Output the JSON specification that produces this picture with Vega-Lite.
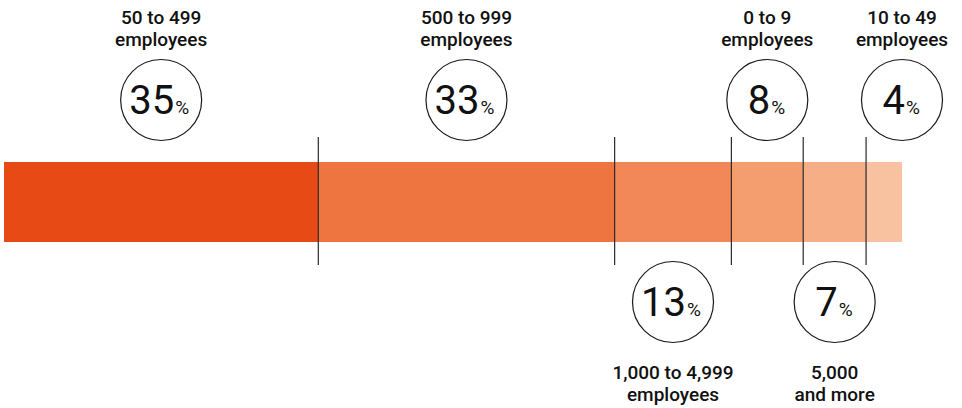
{
  "$schema": "https://vega.github.io/schema/vega-lite/v6.json",
  "width": 898,
  "height": 408,
  "autosize": {"type": "none"},
  "padding": {"left": 4, "right": 60, "top": 0, "bottom": 0},
  "background": "white",
  "config": {"view": {"stroke": null}, "font": "Roboto"},
  "data": {
    "values": [
      {"label": "50 to 499\nemployees", "num": "35", "pct": 35, "order": 1, "side": "top"},
      {"label": "500 to 999\nemployees", "num": "33", "pct": 33, "order": 2, "side": "top"},
      {"label": "1,000 to 4,999\nemployees", "num": "13", "pct": 13, "order": 3, "side": "bottom"},
      {"label": "0 to 9\nemployees", "num": "8", "pct": 8, "order": 4, "side": "top"},
      {"label": "5,000\nand more", "num": "7", "pct": 7, "order": 5, "side": "bottom"},
      {"label": "10 to 49\nemployees", "num": "4", "pct": 4, "order": 6, "side": "top"}
    ]
  },
  "transform": [
    {"stack": "pct", "groupby": [], "sort": [{"field": "order", "order": "ascending"}], "as": ["x0", "x1"]},
    {"calculate": "datum.order == 6 ? datum.x1 : (datum.x0 + datum.x1) / 2", "as": "lx"}
  ],
  "layer": [
    {
      "mark": {"type": "bar"},
      "encoding": {
        "x": {"field": "x0", "type": "quantitative", "scale": {"domain": [0, 100], "nice": false, "zero": false}, "axis": null},
        "x2": {"field": "x1"},
        "y": {"datum": 162, "type": "quantitative", "scale": {"domain": [0, 408], "reverse": true, "nice": false, "zero": false}, "axis": null},
        "y2": {"datum": 242},
        "color": {"field": "order", "type": "ordinal", "scale": {"range": ["#E84A16", "#EE7540", "#F28858", "#F49D6F", "#F6AE87", "#F8C2A0"]}, "legend": null}
      }
    },
    {
      "transform": [{"filter": "datum.order < 6"}],
      "mark": {"type": "rule", "color": "#2a2a2a", "strokeWidth": 1.2},
      "encoding": {
        "x": {"field": "x1", "type": "quantitative"},
        "y": {"datum": 137, "type": "quantitative"},
        "y2": {"datum": 265}
      }
    },
    {
      "transform": [{"filter": "datum.side == 'top'"}],
      "mark": {"type": "point", "shape": "circle", "size": 6561, "filled": true, "fill": "white", "stroke": "#1a1a1a", "strokeWidth": 1.2, "opacity": 1},
      "encoding": {
        "x": {"field": "lx", "type": "quantitative"},
        "y": {"datum": 100, "type": "quantitative"}
      }
    },
    {
      "transform": [{"filter": "datum.side == 'bottom'"}],
      "mark": {"type": "point", "shape": "circle", "size": 6561, "filled": true, "fill": "white", "stroke": "#1a1a1a", "strokeWidth": 1.2, "opacity": 1},
      "encoding": {
        "x": {"field": "lx", "type": "quantitative"},
        "y": {"datum": 302, "type": "quantitative"}
      }
    },
    {
      "transform": [{"filter": "datum.side == 'top' && datum.pct >= 10"}],
      "mark": {"type": "text", "align": "right", "baseline": "alphabetic", "fontSize": 40, "fontWeight": 400, "color": "#111", "dx": 13},
      "encoding": {"x": {"field": "lx", "type": "quantitative"}, "y": {"datum": 114, "type": "quantitative"}, "text": {"field": "num"}}
    },
    {
      "transform": [{"filter": "datum.side == 'top' && datum.pct >= 10"}],
      "mark": {"type": "text", "align": "left", "baseline": "alphabetic", "fontSize": 19, "fontWeight": 400, "color": "#111", "dx": 14},
      "encoding": {"x": {"field": "lx", "type": "quantitative"}, "y": {"datum": 114, "type": "quantitative"}, "text": {"value": "%"}}
    },
    {
      "transform": [{"filter": "datum.side == 'top' && datum.pct < 10"}],
      "mark": {"type": "text", "align": "right", "baseline": "alphabetic", "fontSize": 40, "fontWeight": 400, "color": "#111", "dx": 3},
      "encoding": {"x": {"field": "lx", "type": "quantitative"}, "y": {"datum": 114, "type": "quantitative"}, "text": {"field": "num"}}
    },
    {
      "transform": [{"filter": "datum.side == 'top' && datum.pct < 10"}],
      "mark": {"type": "text", "align": "left", "baseline": "alphabetic", "fontSize": 19, "fontWeight": 400, "color": "#111", "dx": 4},
      "encoding": {"x": {"field": "lx", "type": "quantitative"}, "y": {"datum": 114, "type": "quantitative"}, "text": {"value": "%"}}
    },
    {
      "transform": [{"filter": "datum.side == 'bottom' && datum.pct >= 10"}],
      "mark": {"type": "text", "align": "right", "baseline": "alphabetic", "fontSize": 40, "fontWeight": 400, "color": "#111", "dx": 13},
      "encoding": {"x": {"field": "lx", "type": "quantitative"}, "y": {"datum": 316, "type": "quantitative"}, "text": {"field": "num"}}
    },
    {
      "transform": [{"filter": "datum.side == 'bottom' && datum.pct >= 10"}],
      "mark": {"type": "text", "align": "left", "baseline": "alphabetic", "fontSize": 19, "fontWeight": 400, "color": "#111", "dx": 14},
      "encoding": {"x": {"field": "lx", "type": "quantitative"}, "y": {"datum": 316, "type": "quantitative"}, "text": {"value": "%"}}
    },
    {
      "transform": [{"filter": "datum.side == 'bottom' && datum.pct < 10"}],
      "mark": {"type": "text", "align": "right", "baseline": "alphabetic", "fontSize": 40, "fontWeight": 400, "color": "#111", "dx": 3},
      "encoding": {"x": {"field": "lx", "type": "quantitative"}, "y": {"datum": 316, "type": "quantitative"}, "text": {"field": "num"}}
    },
    {
      "transform": [{"filter": "datum.side == 'bottom' && datum.pct < 10"}],
      "mark": {"type": "text", "align": "left", "baseline": "alphabetic", "fontSize": 19, "fontWeight": 400, "color": "#111", "dx": 4},
      "encoding": {"x": {"field": "lx", "type": "quantitative"}, "y": {"datum": 316, "type": "quantitative"}, "text": {"value": "%"}}
    },
    {
      "transform": [{"filter": "datum.side == 'top'"}],
      "mark": {"type": "text", "align": "center", "baseline": "alphabetic", "fontSize": 19, "fontWeight": 500, "color": "#111", "lineBreak": "\n", "lineHeight": 22},
      "encoding": {"x": {"field": "lx", "type": "quantitative"}, "y": {"datum": 24, "type": "quantitative"}, "text": {"field": "label"}}
    },
    {
      "transform": [{"filter": "datum.side == 'bottom'"}],
      "mark": {"type": "text", "align": "center", "baseline": "alphabetic", "fontSize": 19, "fontWeight": 500, "color": "#111", "lineBreak": "\n", "lineHeight": 22},
      "encoding": {"x": {"field": "lx", "type": "quantitative"}, "y": {"datum": 379, "type": "quantitative"}, "text": {"field": "label"}}
    }
  ]
}
